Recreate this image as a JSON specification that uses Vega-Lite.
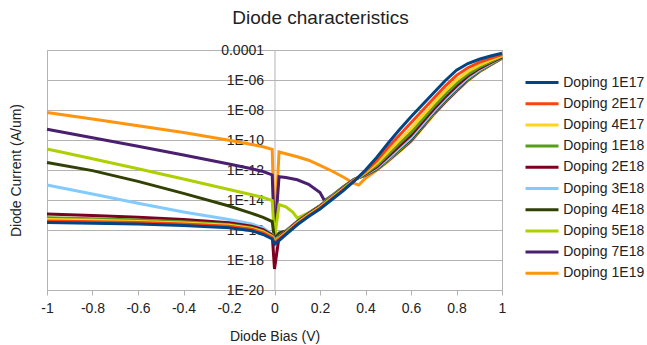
{
  "$schema": "https://vega.github.io/schema/vega-lite/v6.json",
  "width": 455,
  "height": 240,
  "autosize": {"type": "none"},
  "padding": {"left": 47, "top": 50, "right": 145, "bottom": 55},
  "background": "white",
  "title": {"text": "Diode characteristics", "fontSize": 19, "font": "Liberation Sans", "fontWeight": "normal", "color": "#222", "anchor": "middle", "frame": "group", "dx": 46, "offset": 15},
  "data": {"values": [
    {"s":"Doping 1E19","v":-1,"i":6.92e-9},{"s":"Doping 1E19","v":-0.8,"i":2.51e-9},{"s":"Doping 1E19","v":-0.6,"i":8.91e-10},{"s":"Doping 1E19","v":-0.4,"i":3.16e-10},{"s":"Doping 1E19","v":-0.2,"i":9.55e-11},{"s":"Doping 1E19","v":-0.1,"i":5.01e-11},{"s":"Doping 1E19","v":-0.05,"i":3.55e-11},{"s":"Doping 1E19","v":-0.01,"i":2.4e-11},{"s":"Doping 1E19","v":0,"i":2.82e-17},{"s":"Doping 1E19","v":0.02,"i":1.58e-11},{"s":"Doping 1E19","v":0.05,"i":1.2e-11},{"s":"Doping 1E19","v":0.1,"i":7.59e-12},{"s":"Doping 1E19","v":0.15,"i":4.47e-12},{"s":"Doping 1E19","v":0.2,"i":2.0e-12},{"s":"Doping 1E19","v":0.25,"i":8.91e-13},{"s":"Doping 1E19","v":0.3,"i":3.55e-13},{"s":"Doping 1E19","v":0.35,"i":1.26e-13},{"s":"Doping 1E19","v":0.37,"i":1.0e-13},{"s":"Doping 1E19","v":0.4,"i":2.82e-13},{"s":"Doping 1E19","v":0.45,"i":1.0e-12},{"s":"Doping 1E19","v":0.5,"i":3.98e-12},{"s":"Doping 1E19","v":0.55,"i":1.78e-11},{"s":"Doping 1E19","v":0.6,"i":7.94e-11},{"s":"Doping 1E19","v":0.65,"i":6.31e-10},{"s":"Doping 1E19","v":0.7,"i":5.01e-9},{"s":"Doping 1E19","v":0.75,"i":3.16e-8},{"s":"Doping 1E19","v":0.8,"i":1.78e-7},{"s":"Doping 1E19","v":0.85,"i":9.33e-7},{"s":"Doping 1E19","v":0.9,"i":3.55e-6},{"s":"Doping 1E19","v":0.95,"i":1.0e-5},{"s":"Doping 1E19","v":1,"i":2.82e-5},

    {"s":"Doping 7E18","v":-1,"i":5.13e-10},{"s":"Doping 7E18","v":-0.8,"i":1.41e-10},{"s":"Doping 7E18","v":-0.6,"i":3.8e-11},{"s":"Doping 7E18","v":-0.4,"i":1.0e-11},{"s":"Doping 7E18","v":-0.2,"i":2.51e-12},{"s":"Doping 7E18","v":-0.1,"i":1.2e-12},{"s":"Doping 7E18","v":-0.05,"i":7.94e-13},{"s":"Doping 7E18","v":-0.01,"i":4.68e-13},{"s":"Doping 7E18","v":0,"i":2.51e-17},{"s":"Doping 7E18","v":0.02,"i":3.55e-13},{"s":"Doping 7E18","v":0.05,"i":3.16e-13},{"s":"Doping 7E18","v":0.1,"i":2.24e-13},{"s":"Doping 7E18","v":0.15,"i":1.12e-13},{"s":"Doping 7E18","v":0.2,"i":3.16e-14},{"s":"Doping 7E18","v":0.22,"i":8.91e-15},{"s":"Doping 7E18","v":0.25,"i":1.82e-14},{"s":"Doping 7E18","v":0.3,"i":7.24e-14},{"s":"Doping 7E18","v":0.35,"i":2.4e-13},{"s":"Doping 7E18","v":0.4,"i":4.57e-13},{"s":"Doping 7E18","v":0.45,"i":1.07e-12},{"s":"Doping 7E18","v":0.5,"i":4.37e-12},{"s":"Doping 7E18","v":0.55,"i":1.95e-11},{"s":"Doping 7E18","v":0.6,"i":8.91e-11},{"s":"Doping 7E18","v":0.65,"i":7.08e-10},{"s":"Doping 7E18","v":0.7,"i":5.5e-9},{"s":"Doping 7E18","v":0.75,"i":3.47e-8},{"s":"Doping 7E18","v":0.8,"i":1.95e-7},{"s":"Doping 7E18","v":0.85,"i":1.0e-6},{"s":"Doping 7E18","v":0.9,"i":3.72e-6},{"s":"Doping 7E18","v":0.95,"i":1.05e-5},{"s":"Doping 7E18","v":1,"i":2.88e-5},

    {"s":"Doping 5E18","v":-1,"i":2.51e-11},{"s":"Doping 5E18","v":-0.8,"i":5.62e-12},{"s":"Doping 5E18","v":-0.6,"i":1.2e-12},{"s":"Doping 5E18","v":-0.4,"i":2.51e-13},{"s":"Doping 5E18","v":-0.2,"i":5.01e-14},{"s":"Doping 5E18","v":-0.1,"i":2.24e-14},{"s":"Doping 5E18","v":-0.05,"i":1.48e-14},{"s":"Doping 5E18","v":-0.01,"i":9.12e-15},{"s":"Doping 5E18","v":0,"i":2.51e-17},{"s":"Doping 5E18","v":0.02,"i":5.01e-15},{"s":"Doping 5E18","v":0.05,"i":3.55e-15},{"s":"Doping 5E18","v":0.08,"i":1.58e-15},{"s":"Doping 5E18","v":0.1,"i":6.31e-16},{"s":"Doping 5E18","v":0.15,"i":1.38e-15},{"s":"Doping 5E18","v":0.2,"i":4.37e-15},{"s":"Doping 5E18","v":0.25,"i":1.74e-14},{"s":"Doping 5E18","v":0.3,"i":6.92e-14},{"s":"Doping 5E18","v":0.35,"i":2.34e-13},{"s":"Doping 5E18","v":0.4,"i":4.68e-13},{"s":"Doping 5E18","v":0.45,"i":1.15e-12},{"s":"Doping 5E18","v":0.5,"i":4.79e-12},{"s":"Doping 5E18","v":0.55,"i":2.24e-11},{"s":"Doping 5E18","v":0.6,"i":1.05e-10},{"s":"Doping 5E18","v":0.65,"i":8.13e-10},{"s":"Doping 5E18","v":0.7,"i":6.31e-9},{"s":"Doping 5E18","v":0.75,"i":3.98e-8},{"s":"Doping 5E18","v":0.8,"i":2.24e-7},{"s":"Doping 5E18","v":0.85,"i":1.12e-6},{"s":"Doping 5E18","v":0.9,"i":4.07e-6},{"s":"Doping 5E18","v":0.95,"i":1.1e-5},{"s":"Doping 5E18","v":1,"i":2.95e-5},

    {"s":"Doping 4E18","v":-1,"i":3.16e-12},{"s":"Doping 4E18","v":-0.8,"i":9.12e-13},{"s":"Doping 4E18","v":-0.6,"i":1.74e-13},{"s":"Doping 4E18","v":-0.4,"i":2.75e-14},{"s":"Doping 4E18","v":-0.2,"i":3.98e-15},{"s":"Doping 4E18","v":-0.1,"i":1.29e-15},{"s":"Doping 4E18","v":-0.05,"i":6.92e-16},{"s":"Doping 4E18","v":-0.01,"i":3.63e-16},{"s":"Doping 4E18","v":0,"i":2.24e-17},{"s":"Doping 4E18","v":0.02,"i":6.31e-17},{"s":"Doping 4E18","v":0.05,"i":8.71e-17},{"s":"Doping 4E18","v":0.1,"i":3.72e-16},{"s":"Doping 4E18","v":0.15,"i":1.32e-15},{"s":"Doping 4E18","v":0.2,"i":4.17e-15},{"s":"Doping 4E18","v":0.25,"i":1.66e-14},{"s":"Doping 4E18","v":0.3,"i":6.61e-14},{"s":"Doping 4E18","v":0.35,"i":2.29e-13},{"s":"Doping 4E18","v":0.4,"i":4.79e-13},{"s":"Doping 4E18","v":0.45,"i":1.2e-12},{"s":"Doping 4E18","v":0.5,"i":5.25e-12},{"s":"Doping 4E18","v":0.55,"i":2.51e-11},{"s":"Doping 4E18","v":0.6,"i":1.15e-10},{"s":"Doping 4E18","v":0.65,"i":8.91e-10},{"s":"Doping 4E18","v":0.7,"i":6.92e-9},{"s":"Doping 4E18","v":0.75,"i":4.37e-8},{"s":"Doping 4E18","v":0.8,"i":2.45e-7},{"s":"Doping 4E18","v":0.85,"i":1.2e-6},{"s":"Doping 4E18","v":0.9,"i":4.27e-6},{"s":"Doping 4E18","v":0.95,"i":1.15e-5},{"s":"Doping 4E18","v":1,"i":3.02e-5},

    {"s":"Doping 3E18","v":-1,"i":1.0e-13},{"s":"Doping 3E18","v":-0.8,"i":2.51e-14},{"s":"Doping 3E18","v":-0.6,"i":6.03e-15},{"s":"Doping 3E18","v":-0.4,"i":1.58e-15},{"s":"Doping 3E18","v":-0.2,"i":5.01e-16},{"s":"Doping 3E18","v":-0.1,"i":2.51e-16},{"s":"Doping 3E18","v":-0.05,"i":1.41e-16},{"s":"Doping 3E18","v":-0.01,"i":5.01e-17},{"s":"Doping 3E18","v":0,"i":2.0e-17},{"s":"Doping 3E18","v":0.02,"i":3.8e-17},{"s":"Doping 3E18","v":0.05,"i":7.94e-17},{"s":"Doping 3E18","v":0.1,"i":3.55e-16},{"s":"Doping 3E18","v":0.15,"i":1.26e-15},{"s":"Doping 3E18","v":0.2,"i":3.98e-15},{"s":"Doping 3E18","v":0.25,"i":1.58e-14},{"s":"Doping 3E18","v":0.3,"i":6.31e-14},{"s":"Doping 3E18","v":0.35,"i":2.24e-13},{"s":"Doping 3E18","v":0.4,"i":5.01e-13},{"s":"Doping 3E18","v":0.45,"i":1.35e-12},{"s":"Doping 3E18","v":0.5,"i":6.03e-12},{"s":"Doping 3E18","v":0.55,"i":2.95e-11},{"s":"Doping 3E18","v":0.6,"i":1.41e-10},{"s":"Doping 3E18","v":0.65,"i":1.07e-9},{"s":"Doping 3E18","v":0.7,"i":8.32e-9},{"s":"Doping 3E18","v":0.75,"i":5.25e-8},{"s":"Doping 3E18","v":0.8,"i":2.88e-7},{"s":"Doping 3E18","v":0.85,"i":1.38e-6},{"s":"Doping 3E18","v":0.9,"i":4.68e-6},{"s":"Doping 3E18","v":0.95,"i":1.23e-5},{"s":"Doping 3E18","v":1,"i":3.16e-5},

    {"s":"Doping 2E18","v":-1,"i":1.17e-15},{"s":"Doping 2E18","v":-0.8,"i":9.33e-16},{"s":"Doping 2E18","v":-0.6,"i":7.08e-16},{"s":"Doping 2E18","v":-0.4,"i":5.01e-16},{"s":"Doping 2E18","v":-0.2,"i":3.02e-16},{"s":"Doping 2E18","v":-0.1,"i":1.78e-16},{"s":"Doping 2E18","v":-0.05,"i":1.05e-16},{"s":"Doping 2E18","v":-0.01,"i":4.47e-17},{"s":"Doping 2E18","v":0,"i":2.51e-19},{"s":"Doping 2E18","v":0.02,"i":3.55e-17},{"s":"Doping 2E18","v":0.05,"i":7.59e-17},{"s":"Doping 2E18","v":0.1,"i":3.39e-16},{"s":"Doping 2E18","v":0.15,"i":1.2e-15},{"s":"Doping 2E18","v":0.2,"i":3.8e-15},{"s":"Doping 2E18","v":0.25,"i":1.51e-14},{"s":"Doping 2E18","v":0.3,"i":6.03e-14},{"s":"Doping 2E18","v":0.35,"i":2.19e-13},{"s":"Doping 2E18","v":0.4,"i":5.5e-13},{"s":"Doping 2E18","v":0.45,"i":1.66e-12},{"s":"Doping 2E18","v":0.5,"i":8.13e-12},{"s":"Doping 2E18","v":0.55,"i":4.17e-11},{"s":"Doping 2E18","v":0.6,"i":2.09e-10},{"s":"Doping 2E18","v":0.65,"i":1.58e-9},{"s":"Doping 2E18","v":0.7,"i":1.17e-8},{"s":"Doping 2E18","v":0.75,"i":7.41e-8},{"s":"Doping 2E18","v":0.8,"i":4.07e-7},{"s":"Doping 2E18","v":0.85,"i":1.82e-6},{"s":"Doping 2E18","v":0.9,"i":5.75e-6},{"s":"Doping 2E18","v":0.95,"i":1.41e-5},{"s":"Doping 2E18","v":1,"i":3.39e-5},

    {"s":"Doping 1E18","v":-1,"i":6.61e-16},{"s":"Doping 1E18","v":-0.8,"i":5.62e-16},{"s":"Doping 1E18","v":-0.6,"i":4.68e-16},{"s":"Doping 1E18","v":-0.4,"i":3.55e-16},{"s":"Doping 1E18","v":-0.2,"i":2.34e-16},{"s":"Doping 1E18","v":-0.1,"i":1.41e-16},{"s":"Doping 1E18","v":-0.05,"i":8.51e-17},{"s":"Doping 1E18","v":-0.01,"i":3.98e-17},{"s":"Doping 1E18","v":0,"i":1.78e-17},{"s":"Doping 1E18","v":0.02,"i":3.16e-17},{"s":"Doping 1E18","v":0.05,"i":6.92e-17},{"s":"Doping 1E18","v":0.1,"i":3.09e-16},{"s":"Doping 1E18","v":0.15,"i":1.1e-15},{"s":"Doping 1E18","v":0.2,"i":3.47e-15},{"s":"Doping 1E18","v":0.25,"i":1.38e-14},{"s":"Doping 1E18","v":0.3,"i":5.5e-14},{"s":"Doping 1E18","v":0.35,"i":2.09e-13},{"s":"Doping 1E18","v":0.4,"i":6.03e-13},{"s":"Doping 1E18","v":0.45,"i":2.04e-12},{"s":"Doping 1E18","v":0.5,"i":1.1e-11},{"s":"Doping 1E18","v":0.55,"i":6.17e-11},{"s":"Doping 1E18","v":0.6,"i":3.24e-10},{"s":"Doping 1E18","v":0.65,"i":2.34e-9},{"s":"Doping 1E18","v":0.7,"i":1.74e-8},{"s":"Doping 1E18","v":0.75,"i":1.1e-7},{"s":"Doping 1E18","v":0.8,"i":5.89e-7},{"s":"Doping 1E18","v":0.85,"i":2.45e-6},{"s":"Doping 1E18","v":0.9,"i":7.24e-6},{"s":"Doping 1E18","v":0.95,"i":1.66e-5},{"s":"Doping 1E18","v":1,"i":3.72e-5},

    {"s":"Doping 4E17","v":-1,"i":5.01e-16},{"s":"Doping 4E17","v":-0.8,"i":4.47e-16},{"s":"Doping 4E17","v":-0.6,"i":3.72e-16},{"s":"Doping 4E17","v":-0.4,"i":2.95e-16},{"s":"Doping 4E17","v":-0.2,"i":2.04e-16},{"s":"Doping 4E17","v":-0.1,"i":1.26e-16},{"s":"Doping 4E17","v":-0.05,"i":7.59e-17},{"s":"Doping 4E17","v":-0.01,"i":3.55e-17},{"s":"Doping 4E17","v":0,"i":1.58e-17},{"s":"Doping 4E17","v":0.02,"i":2.82e-17},{"s":"Doping 4E17","v":0.05,"i":6.31e-17},{"s":"Doping 4E17","v":0.1,"i":2.82e-16},{"s":"Doping 4E17","v":0.15,"i":1.0e-15},{"s":"Doping 4E17","v":0.2,"i":3.16e-15},{"s":"Doping 4E17","v":0.25,"i":1.26e-14},{"s":"Doping 4E17","v":0.3,"i":5.01e-14},{"s":"Doping 4E17","v":0.35,"i":2.0e-13},{"s":"Doping 4E17","v":0.4,"i":6.92e-13},{"s":"Doping 4E17","v":0.45,"i":2.82e-12},{"s":"Doping 4E17","v":0.5,"i":1.74e-11},{"s":"Doping 4E17","v":0.55,"i":1.05e-10},{"s":"Doping 4E17","v":0.6,"i":5.89e-10},{"s":"Doping 4E17","v":0.65,"i":4.17e-9},{"s":"Doping 4E17","v":0.7,"i":2.95e-8},{"s":"Doping 4E17","v":0.75,"i":1.86e-7},{"s":"Doping 4E17","v":0.8,"i":9.77e-7},{"s":"Doping 4E17","v":0.85,"i":3.72e-6},{"s":"Doping 4E17","v":0.9,"i":9.77e-6},{"s":"Doping 4E17","v":0.95,"i":2.09e-5},{"s":"Doping 4E17","v":1,"i":4.17e-5},

    {"s":"Doping 2E17","v":-1,"i":3.98e-16},{"s":"Doping 2E17","v":-0.8,"i":3.55e-16},{"s":"Doping 2E17","v":-0.6,"i":3.16e-16},{"s":"Doping 2E17","v":-0.4,"i":2.51e-16},{"s":"Doping 2E17","v":-0.2,"i":1.78e-16},{"s":"Doping 2E17","v":-0.1,"i":1.12e-16},{"s":"Doping 2E17","v":-0.05,"i":6.31e-17},{"s":"Doping 2E17","v":-0.01,"i":3.16e-17},{"s":"Doping 2E17","v":0,"i":1.41e-17},{"s":"Doping 2E17","v":0.02,"i":2.51e-17},{"s":"Doping 2E17","v":0.05,"i":5.62e-17},{"s":"Doping 2E17","v":0.1,"i":2.51e-16},{"s":"Doping 2E17","v":0.15,"i":8.91e-16},{"s":"Doping 2E17","v":0.2,"i":2.82e-15},{"s":"Doping 2E17","v":0.25,"i":1.12e-14},{"s":"Doping 2E17","v":0.3,"i":4.47e-14},{"s":"Doping 2E17","v":0.35,"i":1.91e-13},{"s":"Doping 2E17","v":0.4,"i":8.13e-13},{"s":"Doping 2E17","v":0.45,"i":4.37e-12},{"s":"Doping 2E17","v":0.5,"i":3.24e-11},{"s":"Doping 2E17","v":0.55,"i":2.19e-10},{"s":"Doping 2E17","v":0.6,"i":1.41e-9},{"s":"Doping 2E17","v":0.65,"i":9.33e-9},{"s":"Doping 2E17","v":0.7,"i":6.17e-8},{"s":"Doping 2E17","v":0.75,"i":3.89e-7},{"s":"Doping 2E17","v":0.8,"i":2.04e-6},{"s":"Doping 2E17","v":0.85,"i":6.61e-6},{"s":"Doping 2E17","v":0.9,"i":1.51e-5},{"s":"Doping 2E17","v":0.95,"i":2.82e-5},{"s":"Doping 2E17","v":1,"i":5.01e-5},

    {"s":"Doping 1E17","v":-1,"i":3.16e-16},{"s":"Doping 1E17","v":-0.8,"i":2.82e-16},{"s":"Doping 1E17","v":-0.6,"i":2.51e-16},{"s":"Doping 1E17","v":-0.4,"i":2.0e-16},{"s":"Doping 1E17","v":-0.2,"i":1.41e-16},{"s":"Doping 1E17","v":-0.1,"i":8.91e-17},{"s":"Doping 1E17","v":-0.05,"i":5.01e-17},{"s":"Doping 1E17","v":-0.01,"i":2.51e-17},{"s":"Doping 1E17","v":0,"i":1.12e-17},{"s":"Doping 1E17","v":0.02,"i":2.0e-17},{"s":"Doping 1E17","v":0.05,"i":5.01e-17},{"s":"Doping 1E17","v":0.1,"i":2.24e-16},{"s":"Doping 1E17","v":0.15,"i":7.94e-16},{"s":"Doping 1E17","v":0.2,"i":2.51e-15},{"s":"Doping 1E17","v":0.25,"i":1.0e-14},{"s":"Doping 1E17","v":0.3,"i":3.98e-14},{"s":"Doping 1E17","v":0.35,"i":1.78e-13},{"s":"Doping 1E17","v":0.4,"i":1.0e-12},{"s":"Doping 1E17","v":0.45,"i":7.08e-12},{"s":"Doping 1E17","v":0.5,"i":6.31e-11},{"s":"Doping 1E17","v":0.55,"i":5.01e-10},{"s":"Doping 1E17","v":0.6,"i":3.55e-9},{"s":"Doping 1E17","v":0.65,"i":2.24e-8},{"s":"Doping 1E17","v":0.7,"i":1.41e-7},{"s":"Doping 1E17","v":0.75,"i":8.91e-7},{"s":"Doping 1E17","v":0.8,"i":4.47e-6},{"s":"Doping 1E17","v":0.85,"i":1.26e-5},{"s":"Doping 1E17","v":0.9,"i":2.4e-5},{"s":"Doping 1E17","v":0.95,"i":3.98e-5},{"s":"Doping 1E17","v":1,"i":6.03e-5}
  ]},
  "mark": {"type": "line", "strokeWidth": 3, "interpolate": "linear"},
  "encoding": {
    "x": {
      "field": "v", "type": "quantitative",
      "scale": {"domain": [-1, 1], "nice": false, "zero": false},
      "axis": {
        "title": "Diode Bias (V)",
        "values": [-1, -0.8, -0.6, -0.4, -0.2, 0, 0.2, 0.4, 0.6, 0.8, 1],
        "labelExpr": "toString(round(datum.value*10)/10)",
        "grid": false,
        "domainColor": "#b3b3b3",
        "tickColor": "#b3b3b3",
        "tickSize": 5,
        "labelPadding": 6,
        "labelFontSize": 14,
        "titleFontSize": 14,
        "titlePadding": 14,
        "labelFlush": false
      }
    },
    "y": {
      "field": "i", "type": "quantitative",
      "scale": {"type": "log", "domain": [1e-20, 0.0001], "nice": false},
      "axis": {
        "title": "Diode Current (A/um)",
        "values": [1e-20, 1e-18, 1e-16, 1e-14, 1e-12, 1e-10, 1e-8, 1e-6, 0.0001],
        "labelExpr": "datum.value > 5e-5 ? '0.0001' : '1E-' + (round(-log(datum.value)/LN10) < 10 ? '0' : '') + round(-log(datum.value)/LN10)",
        "offset": -227.5,
        "ticks": false,
        "grid": true,
        "gridColor": "#b3b3b3",
        "domainColor": "#b3b3b3",
        "labelPadding": 11,
        "labelFontSize": 14,
        "titleFontSize": 14,
        "titleX": -258.5,
        "titleY": 120,
        "titleAngle": -90,
        "titleAlign": "center",
        "titleBaseline": "middle",
        "labelFlush": false
      }
    },
    "color": {
      "field": "s", "type": "nominal",
      "scale": {
        "domain": ["Doping 1E17", "Doping 2E17", "Doping 4E17", "Doping 1E18", "Doping 2E18", "Doping 3E18", "Doping 4E18", "Doping 5E18", "Doping 7E18", "Doping 1E19"],
        "range": ["#004586", "#ff420e", "#ffd320", "#579d1c", "#7e0021", "#83caff", "#314004", "#aecf00", "#4b1f6f", "#ff950e"]
      },
      "legend": {
        "title": null,
        "orient": "none",
        "legendX": 485,
        "legendY": 22.5,
        "symbolType": "M-2,0H2",
        "symbolSize": 272.25,
        "symbolStrokeWidth": 3,
        "labelFontSize": 14,
        "labelOffset": 11.25,
        "rowPadding": 4.2
      }
    }
  },
  "config": {
    "font": "Liberation Sans",
    "axis": {"labelFont": "Liberation Sans", "titleFont": "Liberation Sans", "labelColor": "#222", "titleColor": "#222", "titleFontWeight": "normal"},
    "legend": {"labelFont": "Liberation Sans", "labelColor": "#222"},
    "view": {"stroke": "#b3b3b3"}
  }
}
